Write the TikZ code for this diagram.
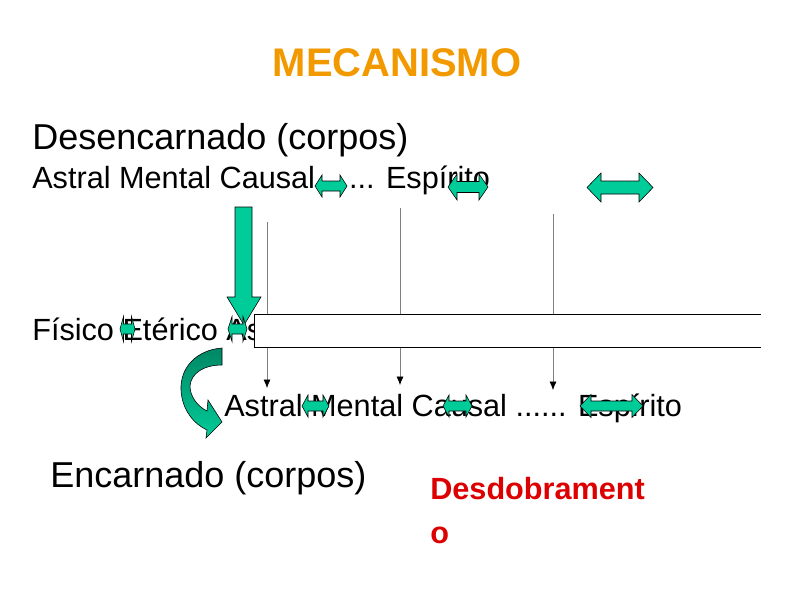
\documentclass[tikz,border=0pt]{standalone}
\usepackage{fontspec}
\setmainfont{Liberation Sans}
\usepackage{tikz}
\usepackage{xcolor}
\usetikzlibrary{arrows.meta}
\definecolor{mecteal}{RGB}{0,204,153}
\definecolor{mecdark}{RGB}{0,135,100}
\definecolor{mecorange}{RGB}{242,153,0}
\definecolor{mecred}{RGB}{221,0,0}

\begin{document}
\begin{tikzpicture}[x=0.025cm,y=-0.025cm,
    lbl/.style={anchor=base west,inner sep=0pt},
    bigtxt/.style={font=\fontsize{25.6}{30}\selectfont},
    midtxt/.style={font=\fontsize{21.8}{26}\selectfont},
    gband/.style={fill=mecteal,draw=black,line width=0.4pt},
    guide/.style={gray,line width=0.5pt,-{Latex[length=6pt,width=5pt,color=black]}}]
  \useasboundingbox (0,0) rectangle (800,600);
  % --- title and labels (coordinates in px, y down) ---
  \node[anchor=base,inner sep=0pt,mecorange,font=\bfseries\fontsize{28.4}{34}\selectfont] (title) at (397,76) {MECANISMO};
  \node[lbl,bigtxt] (desenc) at (32,149) {Desencarnado (corpos)};
  \node[lbl,midtxt] (corposA) at (32,188) {Astral Mental Causal ...... Espírito};
  \node[lbl,midtxt] (fisico) at (32,340) {Físico Etérico As};
  \node[lbl,midtxt] (corposB) at (224,416) {Astral Mental Causal ...... Espírito};
  \node[lbl,bigtxt] (encarn) at (50,487) {Encarnado (corpos)};
  \node[anchor=north west,inner sep=0pt,align=left,mecred,font=\bfseries\fontsize{21.8}{31}\selectfont] (desdob) at (430,477) {Desdobrament\\o};
  % --- guide lines down to the lower row ---
  \foreach \i/\x/\ya/\yb in {1/267/222/388,2/400/208/385,3/553/214/390} {
    \coordinate (g\i top) at (\x,\ya);
    \coordinate (g\i bot) at (\x,\yb);
    \draw[guide] (g\i top) -- (g\i bot);
  }
  % --- white band, open on the right ---
  \fill[white] (254,314) rectangle (761,347);
  \draw[line width=0.7pt] (761,314) -- (254,314) -- (254,347) -- (761,347);
  % --- big down arrow ---
  \draw[gband] (235,207) -- (252,207) -- (252,297) -- (261,297) -- (244,325)
    -- (227,297) -- (235,297) -- cycle;
  % --- double arrows: centre x/y, half length, head length, shaft, head ---
  \foreach \cx/\cy/\hl/\hk/\sw/\hw in {331/186/16/7/5/11,468/187/20/9/5.5/13,
      620/187.5/33/14/6.5/14.5,127.5/329/7.5/3.5/5/12.5,237.5/329/9.5/4/5/12.5,
      315.5/406/13.5/6/5/11,457.5/406/14.5/6/5/11,611.5/406/31.5/11/5/11.5}
    \draw[gband] ({\cx-\hl},\cy) -- ({\cx-\hl+\hk},{\cy-\hw}) -- ({\cx-\hl+\hk},{\cy-\sw})
      -- ({\cx+\hl-\hk},{\cy-\sw}) -- ({\cx+\hl-\hk},{\cy-\hw}) -- ({\cx+\hl},\cy)
      -- ({\cx+\hl-\hk},{\cy+\hw}) -- ({\cx+\hl-\hk},{\cy+\sw}) -- ({\cx-\hl+\hk},{\cy+\sw})
      -- ({\cx-\hl+\hk},{\cy+\hw}) -- cycle;
  % --- curved arrow on the left ---
  \draw[line width=0.4pt,top color=mecdark,bottom color=mecteal]
    (222,348) .. controls (196,350) and (180,368) .. (181,390)
    .. controls (182,410) and (194,424) .. (207,430) -- (206,438) -- (222,422)
    -- (208,400) -- (207,411) .. controls (197,406) and (190,396) .. (190,386)
    .. controls (191,373) and (204,365) .. (222,365) -- cycle;
\end{tikzpicture}
\end{document}
